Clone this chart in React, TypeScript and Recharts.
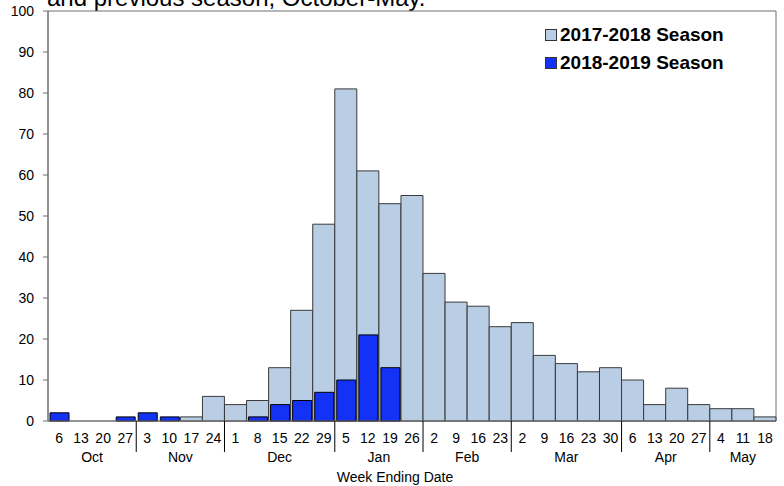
import React from 'react';
import { BarChart, Bar, XAxis, YAxis, ReferenceArea } from 'recharts';

const months = ['Oct', 'Nov', 'Dec', 'Jan', 'Feb', 'Mar', 'Apr', 'May'];
const monthWeekCounts = [4, 4, 5, 4, 4, 5, 4, 3];
const weekDays = [
  '6', '13', '20', '27',
  '3', '10', '17', '24',
  '1', '8', '15', '22', '29',
  '5', '12', '19', '26',
  '2', '9', '16', '23',
  '2', '9', '16', '23', '30',
  '6', '13', '20', '27',
  '4', '11', '18',
];
const season1718 = [
  0, 0, 0, 0,
  0, 0, 1, 6,
  4, 5, 13, 27, 48,
  81, 61, 53, 55,
  36, 29, 28, 23,
  24, 16, 14, 12, 13,
  10, 4, 8, 4,
  3, 3, 1,
];
const season1819 = [
  2, 0, 0, 1,
  2, 1, 0, 0,
  0, 1, 4, 5, 7,
  10, 21, 13, 0,
  0, 0, 0, 0,
  0, 0, 0, 0, 0,
  0, 0, 0, 0,
  0, 0, 0,
];
const yTicks = [0, 10, 20, 30, 40, 50, 60, 70, 80, 90, 100];
const seriesNames = ['2017-2018 Season', '2018-2019 Season'];

const weekMonth: string[] = [];
const weekIsFirst: boolean[] = [];
months.forEach((m, mi) => {
  for (let i = 0; i < monthWeekCounts[mi]; i++) {
    weekMonth.push(m);
    weekIsFirst.push(i === 0);
  }
});

const data = weekDays.map((d, i) => ({
  key: `${weekMonth[i]} ${d}`,
  day: d,
  month: weekMonth[i],
  first: weekIsFirst[i],
  s1718: season1718[i] || null,
  s1819: season1819[i] || null,
}));

const FONT = '"Liberation Sans", Arial, sans-serif';
const LIGHT = '#b9cde5';
const BLUE = '#1432f5';
const AXIS = '#6f6f6f';

const WeekTick = (props: any) => {
  const { x, y, payload, index } = props;
  const half = payload.offset || 0;
  const item = data[index];
  const els: any[] = [];
  els.push(
    <text key="d" x={x} y={y + 22} textAnchor="middle" fontSize={14} fontFamily={FONT} fill="#000">
      {item ? item.day : ''}
    </text>
  );
  if (item && item.first) {
    const mi = months.indexOf(item.month);
    const cnt = monthWeekCounts[mi];
    els.push(
      <text key="m" x={x + (cnt - 1) * half} y={y + 41} textAnchor="middle" fontSize={14} fontFamily={FONT} fill="#000">
        {item.month}
      </text>
    );
    if (mi > 0) {
      els.push(
        <line key="l" x1={x - half} x2={x - half} y1={y} y2={y + 31} stroke="#000" strokeWidth={1} />
      );
    }
  }
  return <g>{els}</g>;
};

const LegendBox = () => {
  const colors = [LIGHT, BLUE];
  return (
    <div style={{ position: 'absolute', left: 545, top: 21, fontFamily: FONT }}>
      {seriesNames.map((label, i) => (
        <div key={label} style={{ display: 'flex', alignItems: 'center', height: 28 }}>
          <span
            style={{
              display: 'inline-block',
              width: 10,
              height: 10,
              background: colors[i],
              border: '1px solid #333',
              marginRight: 3,
            }}
          />
          <span style={{ fontSize: 19, fontWeight: 'bold', color: '#000' }}>{label}</span>
        </div>
      ))}
    </div>
  );
};

export default function App() {
  return (
    <div style={{ position: 'absolute', left: 0, top: 0, width: 784, height: 486, background: '#fff', overflow: 'hidden' }}>
      <div
        style={{
          position: 'absolute',
          left: 47,
          top: -16,
          fontFamily: FONT,
          fontSize: 24,
          color: '#000',
          whiteSpace: 'nowrap',
          lineHeight: '28px',
        }}
      >
        and previous season, October-May.
      </div>
      <BarChart
        width={784}
        height={486}
        data={data}
        margin={{ top: 11, right: 8, bottom: 0, left: 0 }}
        barCategoryGap={0}
      >
        <XAxis
          dataKey="key"
          xAxisId="main"
          height={65}
          interval={0}
          tickLine={false}
          axisLine={{ stroke: AXIS }}
          tick={<WeekTick />}
          tickSize={0}
          tickMargin={0}
          label={{ value: 'Week Ending Date', position: 'insideBottom', offset: 4, dx: -17, fontSize: 14, fontFamily: FONT, fill: '#000' }}
        />
        <XAxis dataKey="key" xAxisId="blue" hide height={0} />
        <YAxis
          width={48}
          domain={[0, 100]}
          ticks={yTicks}
          interval={0}
          tickSize={5}
          tickMargin={9}
          axisLine={{ stroke: AXIS }}
          tickLine={{ stroke: AXIS }}
          tick={{ fontSize: 14, fontFamily: FONT, fill: '#000' }}
        />
        <ReferenceArea xAxisId="main" y1={0} y2={100} fill="none" stroke={AXIS} strokeWidth={1} ifOverflow="visible" />
        <Bar
          dataKey="s1718"
          name={seriesNames[0]}
          xAxisId="main"
          fill={LIGHT}
          stroke="#3a3a3a"
          strokeWidth={1}
          isAnimationActive={false}
        />
        <Bar
          dataKey="s1819"
          name={seriesNames[1]}
          xAxisId="blue"
          barSize={19}
          fill={BLUE}
          stroke="#000"
          strokeWidth={1}
          isAnimationActive={false}
        />
      </BarChart>
      <LegendBox />
    </div>
  );
}
